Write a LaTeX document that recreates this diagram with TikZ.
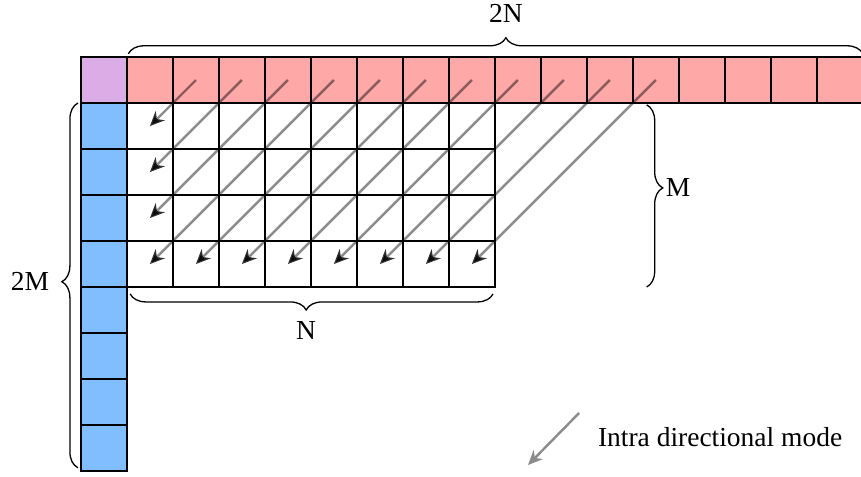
\documentclass[tikz,border=0pt]{standalone}
\usepackage{fontspec}
\setmainfont{Liberation Serif}
\usetikzlibrary{arrows.meta,decorations.pathreplacing}
\definecolor{cornerpurple}{RGB}{220,172,230}
\definecolor{colblue}{RGB}{128,190,255}

\begin{document}
\begin{tikzpicture}[
  cell/.style={draw,line width=1.6pt,minimum size=1cm,inner sep=0pt},
  toprow/.style={cell,fill=red!34},
  leftcol/.style={cell,fill=colblue},
  corner/.style={cell,fill=cornerpurple},
  arr/.style={-{Stealth[length=9pt,width=8pt,color=black!80]},draw=black!45,line width=1.5pt,blend mode=multiply},
  legarr/.style={-{Stealth[length=9pt,width=8pt]},draw=black!45,line width=1.5pt},
  brace/.style={decorate,decoration={brace,amplitude=0.35cm,aspect=#1},line width=0.8pt},
  brace/.default=0.5,
  lab/.style={font=\fontsize{17}{20}\selectfont,inner sep=1pt},
]
  \useasboundingbox (-2.76,-8.11) rectangle (15.96,2.24);

  % corner and reference samples
  \node[corner] (corner) at (-0.5,0.5) {};
  \foreach \i in {0,...,15}
    \node[toprow] (t-\i) at (\i+0.5,0.5) {};
  \foreach \j in {0,...,7}
    \node[leftcol] (l-\j) at (-0.5,-\j-0.5) {};

  % current block
  \foreach \c in {0,...,7}
    \foreach \r in {0,...,3}
      \node[cell] (g-\c-\r) at (\c+0.5,-\r-0.5) {};

  % prediction direction
  \foreach \k in {1,2,3} {
    \pgfmathtruncatemacro\r{\k-1}
    \draw[arr] (t-\k.center) -- (g-0-\r.center);
  }
  \foreach \k in {4,...,11} {
    \pgfmathtruncatemacro\c{\k-4}
    \draw[arr] (t-\k.center) -- (g-\c-3.center);
  }

  % braces
  \draw[brace=0.514] (0.03,1.07) -- node[lab,pos=0.514,above=0.63cm] (lbl2N) {2N} (16,1.07);
  \draw[brace=0.51] (-1.065,-7.93) -- node[lab,pos=0.51,left=0.58cm] (lbl2M) {2M} (-1.065,0);
  \draw[brace=0.456] (11.3,-0.04) -- node[lab,pos=0.456,right=0.37cm] (lblM) {M} (11.3,-4);
  \draw[brace=0.515] (7.96,-4.15) -- node[lab,pos=0.515,below=0.55cm] (lblN) {N} (0.07,-4.15);

  % legend
  \coordinate (leg-s) at (9.83,-6.74);
  \coordinate (leg-e) at (8.72,-7.87);
  \draw[legarr] (leg-s) -- (leg-e);
  \node[lab,anchor=west] (leg) at (10.2,-7.26) {Intra directional mode};
\end{tikzpicture}
\end{document}
